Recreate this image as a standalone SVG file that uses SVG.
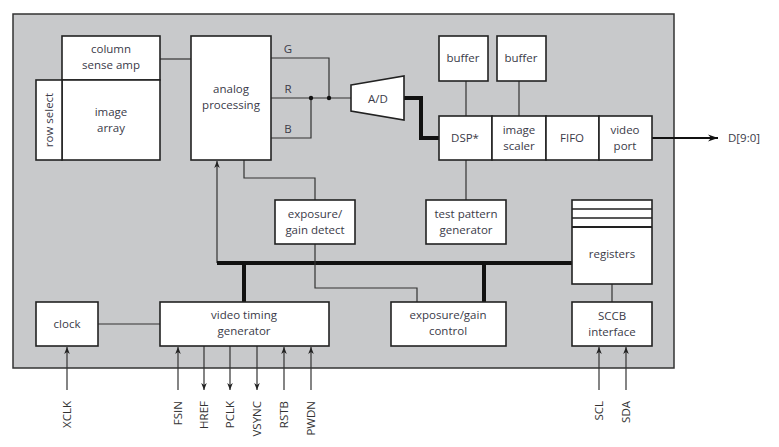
<svg xmlns="http://www.w3.org/2000/svg" width="779" height="447" viewBox="0 0 779 447">
<defs>
<style>
.box{fill:#fff;stroke:#222;stroke-width:1.6}
.ln{fill:none;stroke:#333;stroke-width:1.2}
.bus{fill:none;stroke:#111;stroke-width:4}
.t{font-family:"Open Sans","Noto Sans",sans-serif;font-size:11.5px;fill:#3a3a48;text-anchor:middle}
.s{font-family:"Open Sans","Noto Sans",sans-serif;font-size:11.5px;fill:#333;text-anchor:end}
</style>
<marker id="ah" viewBox="0 0 10 10" refX="10" refY="5" markerWidth="7" markerHeight="7" markerUnits="userSpaceOnUse" orient="auto">
<path d="M0,1 L10,5 L0,9 L3,5 Z" fill="#222"/>
</marker>
<marker id="ahb" viewBox="0 0 10 10" refX="10" refY="5" markerWidth="10" markerHeight="10" markerUnits="userSpaceOnUse" orient="auto">
<path d="M0,1.5 L10,5 L0,8.5 L3,5 Z" fill="#111"/>
</marker>
</defs>
<rect x="13" y="14" width="661" height="354" fill="#c8c9cb" stroke="#333" stroke-width="1.5"/>
<g id="connectors">
<path class="ln" d="M160,59 H191"/>
<path class="ln" d="M271,58 H329 V98"/>
<path class="ln" d="M271,98 H351"/>
<path class="ln" d="M271,138 H311 V98"/>
<circle cx="311" cy="98" r="2.2" fill="#111"/>
<circle cx="329" cy="98" r="2.2" fill="#111"/>
<path d="M404,98 H421 V138 H439" fill="none" stroke="#111" stroke-width="4"/>
<path class="ln" d="M466,81 V116"/>
<path class="ln" d="M519,81 V116"/>
<path class="ln" d="M466,160 V200"/>
<path d="M652,138 H718" fill="none" stroke="#111" stroke-width="2.2" marker-end="url(#ahb)"/>
<path class="ln" d="M244,160 V178 H315 V200"/>
<path class="ln" d="M217,263 V161" marker-end="url(#ah)"/>
<path class="bus" d="M217,263 H572"/>
<path class="bus" d="M244,263 V302"/>
<path class="bus" d="M484,263 V302"/>
<path class="ln" d="M315,244 V288 H417 V302"/>
<path class="ln" d="M612,284 V302"/>
<path class="ln" d="M98,324 H160"/>
<path class="ln" d="M67,390 V347" marker-end="url(#ah)"/>
<path class="ln" d="M178,390 V347" marker-end="url(#ah)"/>
<path class="ln" d="M204,346 V390" marker-end="url(#ah)"/>
<path class="ln" d="M230,346 V390" marker-end="url(#ah)"/>
<path class="ln" d="M257,346 V390" marker-end="url(#ah)"/>
<path class="ln" d="M284,390 V347" marker-end="url(#ah)"/>
<path class="ln" d="M311,390 V347" marker-end="url(#ah)"/>
<path class="ln" d="M599,390 V347" marker-end="url(#ah)"/>
<path class="ln" d="M626,390 V347" marker-end="url(#ah)"/>
</g>
<g id="column-sense-amp"><rect class="box" x="62" y="36" width="98" height="44"/><text class="t" x="111" y="53">column</text><text class="t" x="111" y="69">sense amp</text></g>
<g id="image-array"><rect class="box" x="62" y="80" width="98" height="80"/><text class="t" x="111" y="116">image</text><text class="t" x="111" y="132">array</text></g>
<g id="row-select"><rect class="box" x="36" y="80" width="26" height="80"/><text class="t" transform="translate(53,120) rotate(-90)">row select</text></g>
<g id="analog-processing"><rect class="box" x="191" y="36" width="80" height="124"/><text class="t" x="231" y="93">analog</text><text class="t" x="231" y="109">processing</text></g>
<g id="labels-grb"><text class="t" x="288" y="53">G</text><text class="t" x="288" y="93">R</text><text class="t" x="288" y="133">B</text></g>
<g id="ad"><path d="M351,85 L404,76 L404,120 L351,111 Z" fill="#fff" stroke="#222" stroke-width="1.6"/><text class="t" x="378" y="103">A/D</text></g>
<g id="buffer1"><rect class="box" x="439" y="36" width="49" height="45"/><text class="t" x="463" y="62">buffer</text></g>
<g id="buffer2"><rect class="box" x="497" y="36" width="49" height="45"/><text class="t" x="521" y="62">buffer</text></g>
<g id="dsp"><rect class="box" x="439" y="116" width="53" height="44"/><text class="t" x="465" y="142">DSP*</text></g>
<g id="image-scaler"><rect class="box" x="492" y="116" width="54" height="44"/><text class="t" x="519" y="134">image</text><text class="t" x="519" y="150">scaler</text></g>
<g id="fifo"><rect class="box" x="546" y="116" width="53" height="44"/><text class="t" x="572" y="142">FIFO</text></g>
<g id="video-port"><rect class="box" x="599" y="116" width="53" height="44"/><text class="t" x="625" y="134">video</text><text class="t" x="625" y="150">port</text></g>
<g id="d-out"><text class="t" x="728" y="142" style="text-anchor:start">D[9:0]</text></g>
<g id="exposure-gain-detect"><rect class="box" x="275" y="200" width="80" height="44"/><text class="t" x="315" y="218">exposure/</text><text class="t" x="315" y="234">gain detect</text></g>
<g id="test-pattern-generator"><rect class="box" x="426" y="200" width="80" height="44"/><text class="t" x="466" y="218">test pattern</text><text class="t" x="466" y="234">generator</text></g>
<g id="registers"><rect class="box" x="572" y="200" width="80" height="84"/><path d="M572,209 H652 M572,218 H652" stroke="#222" stroke-width="1.4"/><path d="M572,227 H652" stroke="#222" stroke-width="2"/><text class="t" x="612" y="258">registers</text></g>
<g id="sccb-interface"><rect class="box" x="572" y="302" width="80" height="44"/><text class="t" x="612" y="320">SCCB</text><text class="t" x="612" y="336">interface</text></g>
<g id="clock"><rect class="box" x="36" y="302" width="62" height="44"/><text class="t" x="67" y="328">clock</text></g>
<g id="video-timing-generator"><rect class="box" x="160" y="302" width="169" height="44"/><text class="t" x="244" y="319">video timing</text><text class="t" x="244" y="335">generator</text></g>
<g id="exposure-gain-control"><rect class="box" x="391" y="302" width="115" height="44"/><text class="t" x="448" y="319">exposure/gain</text><text class="t" x="448" y="335">control</text></g>
<g id="signals">
<text class="s" transform="translate(71,401) rotate(-90)">XCLK</text>
<text class="s" transform="translate(182,401) rotate(-90)">FSIN</text>
<text class="s" transform="translate(208,401) rotate(-90)">HREF</text>
<text class="s" transform="translate(234,401) rotate(-90)">PCLK</text>
<text class="s" transform="translate(261,401) rotate(-90)">VSYNC</text>
<text class="s" transform="translate(288,401) rotate(-90)">RSTB</text>
<text class="s" transform="translate(315,401) rotate(-90)">PWDN</text>
<text class="s" transform="translate(603,401) rotate(-90)">SCL</text>
<text class="s" transform="translate(630,401) rotate(-90)">SDA</text>
</g>
</svg>
